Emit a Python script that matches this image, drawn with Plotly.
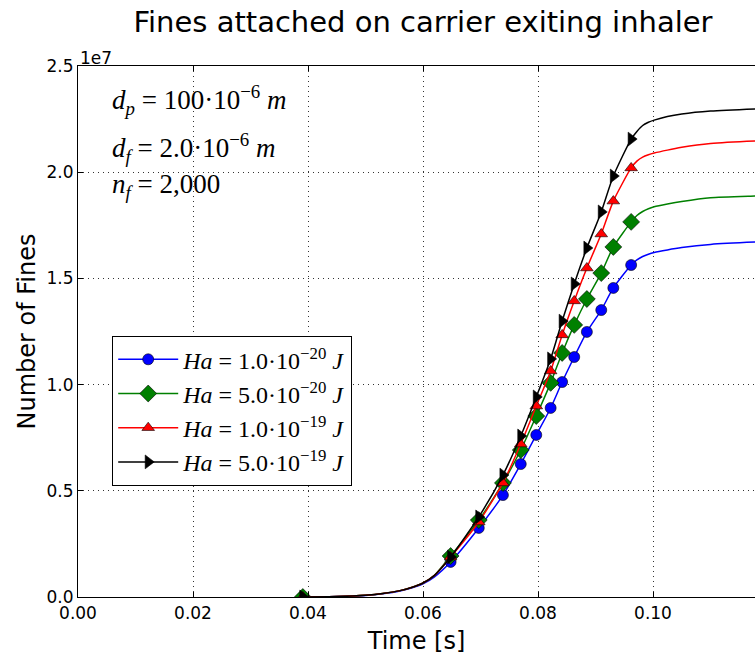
import plotly.graph_objects as go

# ---- data (values in number of fines) ----
time_s = [0.0391, 0.045, 0.050, 0.053, 0.056, 0.058, 0.060, 0.062,
          0.0648, 0.0697, 0.0739, 0.0770, 0.0797, 0.0822, 0.0842, 0.0863,
          0.0885, 0.0910, 0.0931, 0.0962,
          0.0972, 0.0982, 0.0992, 0.1002, 0.1025, 0.105, 0.110, 0.1177, 0.120]
marker_idx = [0, 8, 9, 10, 11, 12, 13, 14, 15, 16, 17, 18, 19]

ha_1e20 = [0, 0.002, 0.007, 0.015, 0.028, 0.042, 0.062, 0.095,
           0.165, 0.325, 0.480, 0.626, 0.763, 0.890, 1.012, 1.130,
           1.248, 1.351, 1.455, 1.563,
           1.587, 1.603, 1.614, 1.622, 1.634, 1.645, 1.660, 1.671, 1.673]
ha_5e20 = [0, 0.002, 0.008, 0.016, 0.030, 0.045, 0.066, 0.102,
           0.193, 0.362, 0.537, 0.692, 0.852, 1.008, 1.149, 1.281,
           1.403, 1.525, 1.648, 1.766,
           1.796, 1.815, 1.828, 1.837, 1.850, 1.862, 1.880, 1.888, 1.890]
ha_1e19 = [0, 0.002, 0.008, 0.016, 0.030, 0.045, 0.066, 0.102,
           0.188, 0.353, 0.537, 0.720, 0.899, 1.064, 1.234, 1.394,
           1.549, 1.709, 1.864, 2.020,
           2.052, 2.071, 2.082, 2.090, 2.104, 2.117, 2.135, 2.147, 2.149]
ha_5e19 = [0, 0.002, 0.008, 0.016, 0.030, 0.045, 0.066, 0.102,
           0.188, 0.377, 0.574, 0.758, 0.942, 1.121, 1.299, 1.474,
           1.643, 1.813, 1.982, 2.156,
           2.192, 2.220, 2.235, 2.245, 2.262, 2.274, 2.288, 2.298, 2.300]
SCALE = 1e7

labels = ["<i>Ha</i> = 1.0·10<sup>−20</sup> <i>J</i>",
          "<i>Ha</i> = 5.0·10<sup>−20</sup> <i>J</i>",
          "<i>Ha</i> = 1.0·10<sup>−19</sup> <i>J</i>",
          "<i>Ha</i> = 5.0·10<sup>−19</sup> <i>J</i>"]
series = [ha_1e20, ha_5e20, ha_1e19, ha_5e19]
colors = ["#0000ff", "#008000", "#ff0000", "#000000"]
symbols = ["circle", "diamond", "triangle-up", "triangle-right"]
sizes = [11, 13, 11, 12]

x_ticks = [0.00, 0.02, 0.04, 0.06, 0.08, 0.10]
y_ticks = [0.0, 0.5, 1.0, 1.5, 2.0, 2.5]

fig = go.Figure()
for vals, lab, col, sym, sz in zip(series, labels, colors, symbols, sizes):
    yv = [v * SCALE for v in vals]
    fig.add_trace(go.Scatter(x=time_s, y=yv, mode="lines",
                             line=dict(color=col, width=1.5, shape="spline", smoothing=0.6),
                             showlegend=False, hoverinfo="skip"))
    fig.add_trace(go.Scatter(x=[time_s[i] for i in marker_idx],
                             y=[yv[i] for i in marker_idx], mode="markers",
                             marker=dict(color=col, symbol=sym, size=sz,
                                         line=dict(color="black", width=0.6)),
                             showlegend=False))
    fig.add_trace(go.Scatter(x=[None], y=[None], mode="lines+markers", name=lab,
                             line=dict(color=col, width=1.5),
                             marker=dict(color=col, symbol=sym, size=sz,
                                         line=dict(color="black", width=0.6))))

axis_common = dict(showline=True, linecolor="black", linewidth=1.2,
                   ticks="inside", ticklen=5, tickcolor="black",
                   showgrid=True, gridcolor="#333", gridwidth=1, griddash="1px,4px",
                   zeroline=False,
                   tickfont=dict(family="DejaVu Sans", size=17, color="black"))

fig.update_xaxes(range=[0, 0.11774], tickvals=x_ticks,
                 ticktext=[f"{v:.2f}" for v in x_ticks], mirror="ticks",
                 title=dict(text="Time [s]", standoff=10,
                            font=dict(family="DejaVu Sans", size=24, color="black")),
                 **axis_common)
fig.update_yaxes(range=[0, 2.5 * SCALE], tickvals=[v * SCALE for v in y_ticks],
                 ticktext=[f"{v:.1f}" for v in y_ticks],
                 title=dict(text="Number of Fines", standoff=4,
                            font=dict(family="DejaVu Sans", size=24, color="black")),
                 **axis_common)

fig.update_layout(
    width=755, height=658,
    margin=dict(l=78, r=0, t=66, b=61, autoexpand=False),
    paper_bgcolor="white", plot_bgcolor="white",
    title=dict(text="Fines attached on carrier exiting inhaler",
               font=dict(family="DejaVu Sans", size=29, color="black"),
               x=(423 - 78) / 677, xref="paper", xanchor="center",
               y=1 - 22 / 658, yref="container", yanchor="middle"),
    legend=dict(x=(112 - 78) / 677, y=(597 - 336) / 531, xanchor="left", yanchor="top",
                bordercolor="black", borderwidth=1.2, bgcolor="white", itemwidth=60,
                font=dict(family="Liberation Serif", size=24, color="black")),
    showlegend=True,
)

param_text = ["<i>d</i><sub><i>p</i></sub> = 100·10<sup>−6</sup> <i>m</i>",
              "<i>d</i><sub><i>f</i></sub> = 2.0·10<sup>−6</sup> <i>m</i>",
              "<i>n</i><sub><i>f</i></sub> = 2,000"]
param_y = [100, 148, 186]
for txt, py in zip(param_text, param_y):
    fig.add_annotation(text=txt, xref="paper", yref="paper",
                       x=(110 - 78) / 677, y=(597 - py) / 531,
                       xanchor="left", yanchor="middle", showarrow=False,
                       font=dict(family="Liberation Serif", size=27, color="black"))

fig.add_annotation(text="1e7", xref="paper", yref="paper", x=0, y=1,
                   xanchor="left", yanchor="bottom", showarrow=False, yshift=-4,
                   font=dict(family="DejaVu Sans", size=17, color="black"))

fig.write_html("out.html")
